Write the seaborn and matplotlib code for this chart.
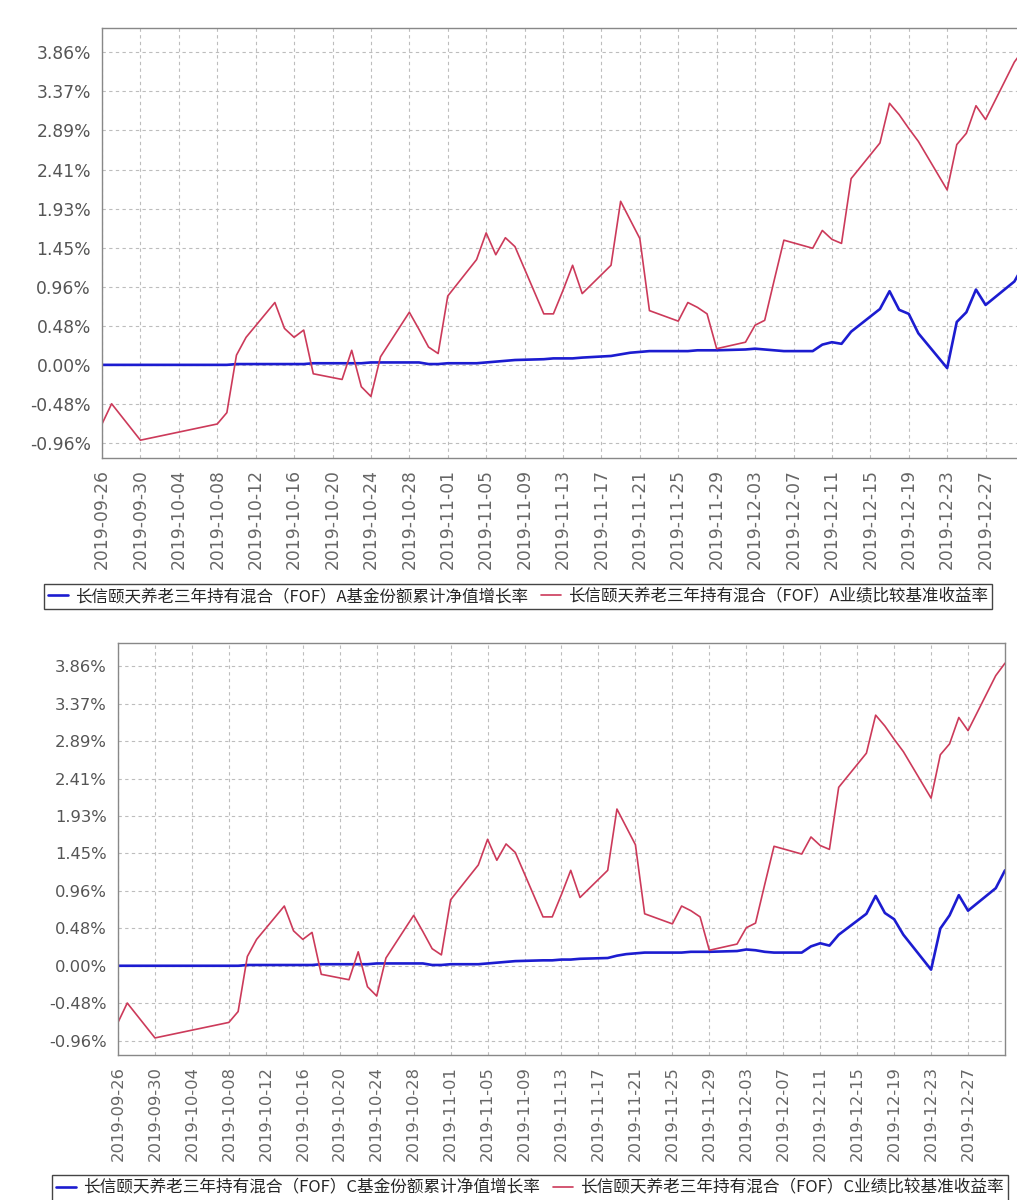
import pandas as pd
import numpy as np
import matplotlib
matplotlib.use('Agg')
import matplotlib.pyplot as plt
import seaborn as sns

# trading days shown in both panels
dates = ['2019-09-26', '2019-09-27', '2019-09-30', '2019-10-08', '2019-10-09', '2019-10-10', '2019-10-11',
         '2019-10-14', '2019-10-15', '2019-10-16', '2019-10-17', '2019-10-18',
         '2019-10-21', '2019-10-22', '2019-10-23', '2019-10-24', '2019-10-25',
         '2019-10-28', '2019-10-29', '2019-10-30', '2019-10-31', '2019-11-01',
         '2019-11-04', '2019-11-05', '2019-11-06', '2019-11-07', '2019-11-08',
         '2019-11-11', '2019-11-12', '2019-11-13', '2019-11-14', '2019-11-15',
         '2019-11-18', '2019-11-19', '2019-11-20', '2019-11-21', '2019-11-22',
         '2019-11-25', '2019-11-26', '2019-11-27', '2019-11-28', '2019-11-29',
         '2019-12-02', '2019-12-03', '2019-12-04', '2019-12-05', '2019-12-06',
         '2019-12-09', '2019-12-10', '2019-12-11', '2019-12-12', '2019-12-13',
         '2019-12-16', '2019-12-17', '2019-12-18', '2019-12-19', '2019-12-20',
         '2019-12-23', '2019-12-24', '2019-12-25', '2019-12-26', '2019-12-27',
         '2019-12-30', '2019-12-31']

# benchmark return (%), same for A and C
bench = [-0.73, -0.48, -0.93, -0.73, -0.59, 0.12, 0.34,
         0.77, 0.45, 0.34, 0.43, -0.11,
         -0.18, 0.18, -0.27, -0.39, 0.10,
         0.65, 0.44, 0.22, 0.14, 0.85,
         1.30, 1.63, 1.36, 1.57, 1.46,
         0.63, 0.63, 0.92, 1.23, 0.88,
         1.23, 2.02, 1.79, 1.56, 0.67,
         0.54, 0.77, 0.71, 0.63, 0.20,
         0.28, 0.49, 0.55, 1.05, 1.54,
         1.44, 1.66, 1.55, 1.50, 2.30,
         2.74, 3.23, 3.09, 2.92, 2.76,
         2.16, 2.72, 2.86, 3.20, 3.03,
         3.74, 3.90]

# cumulative NAV growth (%), class A
nav_a = [0.00, 0.00, 0.00, 0.00, 0.00, 0.01, 0.01,
         0.01, 0.01, 0.01, 0.01, 0.02,
         0.02, 0.02, 0.02, 0.03, 0.03,
         0.03, 0.03, 0.01, 0.01, 0.02,
         0.02, 0.03, 0.04, 0.05, 0.06,
         0.07, 0.08, 0.08, 0.08, 0.09,
         0.11, 0.13, 0.15, 0.16, 0.17,
         0.17, 0.17, 0.18, 0.18, 0.18,
         0.19, 0.20, 0.19, 0.18, 0.17,
         0.17, 0.25, 0.28, 0.26, 0.41,
         0.69, 0.91, 0.68, 0.63, 0.39,
         -0.04, 0.53, 0.65, 0.93, 0.74,
         1.03, 1.24]

# cumulative NAV growth (%), class C
nav_c = [0.00, 0.00, 0.00, 0.00, 0.00, 0.01, 0.01,
         0.01, 0.01, 0.01, 0.01, 0.02,
         0.02, 0.02, 0.02, 0.03, 0.03,
         0.03, 0.03, 0.01, 0.01, 0.02,
         0.02, 0.03, 0.04, 0.05, 0.06,
         0.07, 0.07, 0.08, 0.08, 0.09,
         0.10, 0.13, 0.15, 0.16, 0.17,
         0.17, 0.17, 0.18, 0.18, 0.18,
         0.19, 0.21, 0.20, 0.18, 0.17,
         0.17, 0.25, 0.29, 0.26, 0.40,
         0.67, 0.90, 0.68, 0.60, 0.40,
         -0.05, 0.48, 0.65, 0.91, 0.71,
         1.00, 1.23]

ytick_vals = [-0.965, -0.4825, 0.0, 0.4825, 0.965, 1.4475, 1.93, 2.4125, 2.895, 3.3775, 3.86]
ytick_labels = ['-0.96%', '-0.48%', '0.00%', '0.48%', '0.96%', '1.45%', '1.93%', '2.41%', '2.89%', '3.37%', '3.86%']
xtick_labels = ['2019-09-26', '2019-09-30', '2019-10-04', '2019-10-08', '2019-10-12', '2019-10-16',
                '2019-10-20', '2019-10-24', '2019-10-28', '2019-11-01', '2019-11-05', '2019-11-09',
                '2019-11-13', '2019-11-17', '2019-11-21', '2019-11-25', '2019-11-29', '2019-12-03',
                '2019-12-07', '2019-12-11', '2019-12-15', '2019-12-19', '2019-12-23', '2019-12-27']

fund = '长信颐天养老三年持有混合（FOF）'
labels_a = [fund + 'A基金份额累计净值增长率', fund + 'A业绩比较基准收益率']
labels_c = [fund + 'C基金份额累计净值增长率', fund + 'C业绩比较基准收益率']

blue = '#1c1cd0'
red = '#cc3a5a'

sns.set_style('white')
plt.rcParams['font.family'] = ['DejaVu Sans', 'Noto Sans CJK SC']

W, H = 1017, 1200
fig = plt.figure(figsize=(W / 100, H / 100), dpi=100)


def panel(rect, nav, labels, fs, xfs, lfs, legend_xy):
    ax = fig.add_axes(rect)
    df = pd.DataFrame({'date': pd.to_datetime(dates), 'nav': nav, 'bench': bench})
    sns.lineplot(data=df, x='date', y='nav', color=blue, linewidth=1.9, ax=ax, label=labels[0])
    sns.lineplot(data=df, x='date', y='bench', color=red, linewidth=1.2, ax=ax, label=labels[1])
    ax.set_xlim(pd.Timestamp('2019-09-26'), pd.Timestamp('2019-12-31'))
    ax.set_ylim(-1.15, 4.16)
    ax.set_xticks(pd.to_datetime(xtick_labels))
    ax.set_xticklabels(xtick_labels, rotation=90, fontsize=xfs, color='#666')
    ax.set_yticks(ytick_vals)
    ax.set_yticklabels(ytick_labels, fontsize=fs, color='#555')
    ax.set_xlabel('')
    ax.set_ylabel('')
    ax.grid(True, color='#bdbdbd', linestyle=(0, (3, 3)), linewidth=0.8)
    ax.tick_params(axis='both', direction='out', length=4, color='#888', pad=4)
    for s in ax.spines.values():
        s.set_color('#888')
        s.set_linewidth(1.0)
    handles, labs = ax.get_legend_handles_labels()
    ax.get_legend().remove()
    fig.legend(handles, labs, loc='center', bbox_to_anchor=legend_xy, ncol=2,
               frameon=True, fancybox=False, edgecolor='#444', framealpha=1,
               handlelength=1.2, handletextpad=0.4, columnspacing=0.8, borderpad=0.25,
               prop={'family': ['Noto Sans CJK SC'], 'size': lfs})
    return ax


# top panel (class A) runs slightly past the right edge, as in the source image
panel([102 / W, 1 - 458 / H, (1024 - 102) / W, 430 / H], nav_a, labels_a, 12.3, 12.3, 11.9,
      (518 / W, 1 - 596.5 / H))
# bottom panel (class C)
panel([118 / W, 1 - 1055 / H, (1005 - 118) / W, 412 / H], nav_c, labels_c, 11.8, 11.8, 12.0,
      (530 / W, 1 - 1188 / H))

fig.savefig('out.png', dpi=100, facecolor='white')
